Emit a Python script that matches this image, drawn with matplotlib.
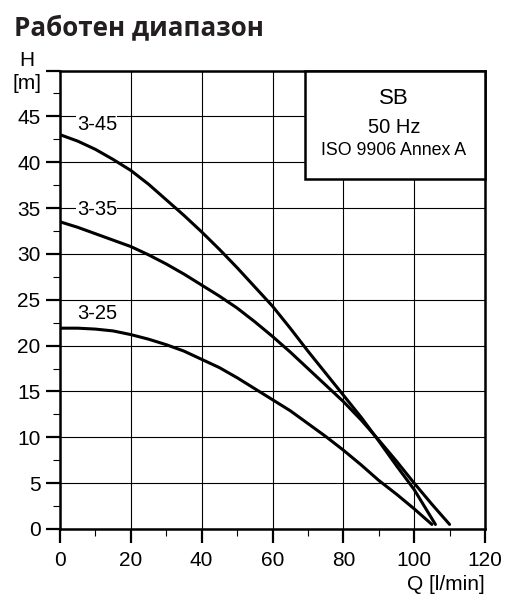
import matplotlib
matplotlib.use("Agg")
import matplotlib.pyplot as plt
from matplotlib.patches import Rectangle
import numpy as np

plt.rcParams['font.family'] = ['Liberation Sans', 'DejaVu Sans']

# pump curves: Q [l/min] vs H [m]
q_345 = [0, 5, 10, 15, 20, 25, 30, 35, 40, 45, 50, 55, 60, 65, 70, 75, 80, 85, 90, 95, 100, 106]
h_345 = [43.0, 42.3, 41.4, 40.3, 39.1, 37.6, 35.9, 34.2, 32.4, 30.5, 28.5, 26.4, 24.3, 21.9, 19.4,
         17.0, 14.6, 12.2, 9.6, 6.9, 4.3, 0.5]

q_335 = [0, 5, 10, 15, 20, 25, 30, 35, 40, 45, 50, 55, 60, 65, 70, 75, 80, 85, 90, 95, 100, 105, 110]
h_335 = [33.5, 32.9, 32.2, 31.5, 30.8, 29.9, 28.9, 27.8, 26.6, 25.4, 24.1, 22.6, 21.0, 19.3, 17.5,
         15.7, 13.9, 11.9, 9.7, 7.4, 5.0, 2.7, 0.5]

q_325 = [0, 5, 10, 15, 20, 25, 30, 35, 40, 45, 50, 55, 60, 65, 70, 75, 80, 85, 90, 95, 100, 105]
h_325 = [21.9, 21.9, 21.8, 21.6, 21.2, 20.7, 20.1, 19.4, 18.5, 17.6, 16.5, 15.3, 14.1, 12.9, 11.5,
         10.1, 8.6, 7.0, 5.3, 3.8, 2.2, 0.5]

curve_names = ['3-45', '3-35', '3-25']
label_pos = [(10.4, 44.1), (10.4, 34.8), (10.4, 23.5)]

x_ticks = [0, 20, 40, 60, 80, 100, 120]
y_ticks = [0, 5, 10, 15, 20, 25, 30, 35, 40, 45, 50]

fig = plt.figure(figsize=(5.29, 6.12), dpi=100)
ax = fig.add_axes([60/529, 1-529/612, 425/529, 458.5/612])

ax.set_xlim(0, 120)
ax.set_ylim(0, 50)
ax.set_axisbelow(True)
ax.grid(True, which='major', color='black', lw=0.8)

for q, h in [(q_345, h_345), (q_335, h_335), (q_325, h_325)]:
    ax.plot(q, h, color='black', lw=2.2, zorder=4, solid_capstyle='round',
            solid_joinstyle='round')

for name, (lx, ly) in zip(curve_names, label_pos):
    ax.text(lx, ly, name, fontsize=14.5, ha='center', va='center', zorder=5,
            bbox=dict(facecolor='white', edgecolor='none', pad=0.3))

# info box in the top right corner
box = Rectangle((69.3, 38.2), 50.7, 11.8, facecolor='white', edgecolor='black',
                lw=1.8, zorder=3, clip_on=False)
ax.add_patch(box)
ax.text(94.3, 46.9, 'SB', fontsize=16, ha='center', va='center', zorder=5)
ax.text(94.3, 43.8, '50 Hz', fontsize=14.5, ha='center', va='center', zorder=5)
ax.text(94.3, 41.3, 'ISO 9906 Annex A', fontsize=12.8, ha='center', va='center', zorder=5)

ax.set_xticks(x_ticks)
ax.set_xticks([10, 30, 50, 70, 90, 110], minor=True)
ax.set_yticks(y_ticks)
ax.set_yticklabels([str(v) if v < 50 else '' for v in y_ticks])
ax.set_yticks(np.arange(2.5, 50, 5), minor=True)
ax.tick_params(which='major', direction='out', length=10, width=1.6, labelsize=15, color='black')
ax.tick_params(which='minor', direction='out', length=5, width=0.8)
ax.tick_params(axis='x', which='major', pad=6)
ax.tick_params(axis='y', which='major', pad=4)

for s in ax.spines.values():
    s.set_linewidth(1.8)

fig.text(27/529, 1-72/612, 'H\n[m]', fontsize=15, ha='center', va='center',
         multialignment='center', linespacing=1.3)
fig.text(485/529, 1-585/612, 'Q [l/min]', fontsize=15, ha='right', va='center')
fig.text(14/529, 1-35.5/612, 'Работен диапазон', fontsize=18.7, fontweight='bold',
         family=['Open Sans', 'DejaVu Sans'], color='#231f20', ha='left', va='baseline')

fig.savefig('out.png', dpi=100)
